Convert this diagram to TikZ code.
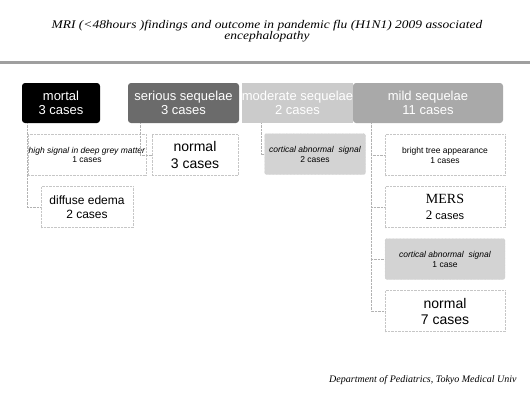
\documentclass[tikz,border=0pt]{standalone}
\usepackage{fontspec}
\setmainfont{Liberation Sans}
\newfontfamily\titlefont[FakeStretch=1.15]{Liberation Serif}
\newfontfamily\mersfont{Liberation Serif}
\usetikzlibrary{positioning}

\definecolor{seriousgray}{HTML}{6B6B6B}
\definecolor{moderategray}{HTML}{CBCBCB}
\definecolor{mildgray}{HTML}{A9A9A9}
\definecolor{cortgray}{HTML}{D3D3D3}

\tikzset{
  topbox/.style={rectangle, rounded corners=3pt, minimum height=40pt, inner sep=1pt,
    align=center, text=white, font=\fontsize{13}{14}\selectfont},
  childbox/.style={rectangle, draw=gray!45, densely dotted, minimum height=41pt,
    inner sep=1pt, align=center},
  greybox/.style={childbox, fill=cortgray, rounded corners=2pt},
  conn/.style={draw=gray!60, densely dotted}
}

\begin{document}
\begin{tikzpicture}[x=1pt,y=-1pt,node distance=52pt,on grid]
\useasboundingbox (0,0) rectangle (530,392);
% title and rule
\node (title) at (267,31) [font=\titlefont\itshape\fontsize{11.7}{11.5}\selectfont, align=center]
  {MRI (<48hours )findings and outcome in pandemic flu (H1N1) 2009 associated\\encephalopathy};
\draw[line width=3pt, gray!75] (0,62) -- (530,62);

% outcome groups
\node[topbox, fill=black, minimum width=78pt] (m_0) at (61,103) {mortal\\3 cases};
\node[topbox, fill=seriousgray, minimum width=111pt] (s_0) at (183.5,103) {serious sequelae\\3 cases};
\node[topbox, fill=moderategray, rounded corners=0pt, minimum width=109pt, inner xsep=0pt] (o_0) at (297.5,103) {moderate sequelae\\2 cases};
\node[topbox, fill=mildgray, minimum width=150pt] (d_0) at (428,103) {mild sequelae\\11 cases};

% MRI findings
\node[childbox, minimum width=92pt, font=\fontsize{8.5}{9.5}\selectfont] (m_1) at (87,155) {\textit{high signal in deep grey matter}\\1 cases};
\node[childbox, minimum width=92pt, font=\fontsize{12}{14}\selectfont] (m_2) [below=of m_1] {diffuse edema\\2 cases};
\node[childbox, minimum width=86pt, font=\fontsize{14}{17}\selectfont] (s_1) at (195,155) {normal\\3 cases};
\node[greybox, minimum width=101pt, font=\fontsize{8.5}{10}\selectfont] (o_1) at (315,154) {\textit{cortical abnormal\ \ signal}\\2 cases};
\node[childbox, minimum width=120pt, font=\fontsize{8.5}{10}\selectfont] (d_1) at (445,155) {bright tree appearance\\1 cases};
\node[childbox, minimum width=120pt, font=\fontsize{11}{16}\selectfont] (d_2) [below=of d_1] {{\mersfont\fontsize{14}{16}\selectfont MERS}\\{\mersfont\fontsize{13}{16}\selectfont 2} cases};
\node[greybox, minimum width=120pt, font=\fontsize{8.5}{10}\selectfont] (d_3) [below=of d_2] {\textit{cortical abnormal\ \ signal}\\1 case};
\node[childbox, minimum width=120pt, font=\fontsize{14}{16}\selectfont] (d_4) [below=of d_3] {normal\\7 cases};

\node[anchor=west, inner sep=1pt, font=\mersfont\itshape\fontsize{10}{12}\selectfont] (foot) at (328,380) {Department of Pediatrics, Tokyo Medical Univ};

% connectors
\draw[conn] ([xshift=5pt]m_0.south west) |- (m_2.west);
\draw[conn] ([xshift=12pt]s_0.south west) |- (s_1.west);
\draw[conn] ([xshift=20pt]o_0.south west) |- (o_1.west);
\foreach \i in {1,...,4}
  \draw[conn] ([xshift=18pt]d_0.south west) |- (d_\i.west);
\end{tikzpicture}
\end{document}
